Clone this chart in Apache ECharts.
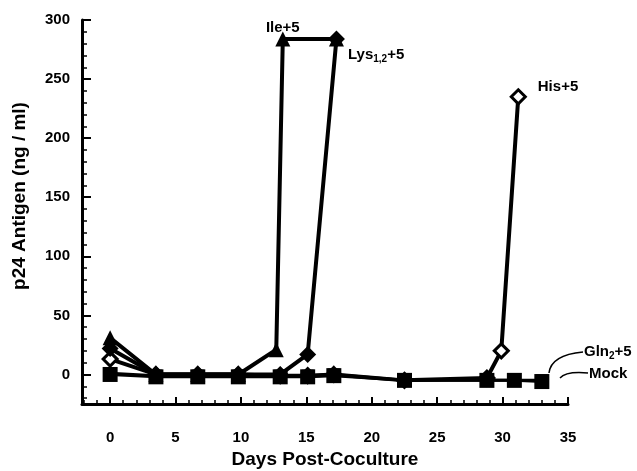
<!DOCTYPE html>
<html><head><meta charset="utf-8">
<script src="https://cdn.jsdelivr.net/npm/echarts@6/dist/echarts.min.js"></script>
<style>html,body{margin:0;padding:0;background:#fff}#c{width:637px;height:471px}</style>
</head><body><div id="c"></div>
<script>
// ---- data ----
const xTickLabels = [0, 5, 10, 15, 20, 25, 30, 35];
const yTickLabels = [0, 50, 100, 150, 200, 250, 300];
const mockDays = [0, 3.5, 6.7, 9.8, 13, 15.1, 17.1, 22.5, 28.8, 30.9, 33];
const mockVals = [0, -2, -2, -2, -2, -2, -1, -5, -5, -5, -6];
const glnDays  = [0, 3.5, 6.7, 9.8, 13, 15.1, 17.1, 22.5, 28.8, 30.9, 33];
const glnVals  = [1, -1, -1, -1, -1, -1, 0, -5, -5, -5, -5];
const hisDays  = [0, 3.5, 6.7, 9.8, 13, 15.1, 17.1, 22.5, 28.8, 29.9, 31.2];
const hisVals  = [13, 0, 0, 0, -1, -1, 0, -5, -3, 20, 235];
const lysDays  = [0, 3.5, 6.7, 9.8, 13, 15.1, 17.3];
const lysVals  = [22, 0, 0, 0, 0, 17, 284];
const ileDays  = [0, 3.5, 6.7, 9.8, 12.7, 13.2, 17.3];
const ileVals  = [31, 0, 0, 0, 21, 284, 284];

const pairs = (d, v) => d.map((x, i) => [x, v[i]]);
const FONT = '"Liberation Sans", Arial, sans-serif';
const xMinor = [], yMinor = [];
for (let d = -2; d <= 35; d++) if (d % 5) xMinor.push(d);
for (let v = -20; v <= 300; v += 10) if (v % 50) yMinor.push(v);

const chart = echarts.init(document.getElementById('c'));
const common = { type: 'line', symbolSize: 15, itemStyle: { color: '#000' }, lineStyle: { color: '#000', width: 3 }, z: 3, animation: false };
const lbl = { color: '#000', fontWeight: 'bold', fontSize: 15, fontFamily: FONT };

chart.setOption({
  animation: false,
  grid: { left: 82, right: 69, top: 20, bottom: 67, containLabel: false, outerBoundsMode: 'none' },
  xAxis: [
    { type: 'value', min: -2.15, max: 35,
      axisLine: { onZero: false, lineStyle: { color: '#000', width: 3 } },
      axisTick: { inside: true, length: 7, lineStyle: { color: '#000', width: 2 }, customValues: xTickLabels },
      axisLabel: { customValues: xTickLabels, color: '#000', fontWeight: 'bold', fontSize: 15, fontFamily: FONT, margin: 26 },
      splitLine: { show: false },
      name: 'Days Post-Coculture', nameLocation: 'middle', nameGap: 45,
      nameTextStyle: { color: '#000', fontWeight: 'bold', fontSize: 19, fontFamily: FONT }
    },
    { type: 'value', min: -2.15, max: 35, position: 'bottom',
      axisLine: { show: false, onZero: false },
      axisTick: { inside: true, length: 4, lineStyle: { color: '#000', width: 1.5 }, customValues: xMinor },
      axisLabel: { show: false }, splitLine: { show: false }
    }
  ],
  yAxis: [
    { type: 'value', min: -25, max: 300,
      axisLine: { show: true, onZero: false, lineStyle: { color: '#000', width: 3 } },
      axisTick: { show: true, inside: true, length: 9, lineStyle: { color: '#000', width: 2 }, customValues: yTickLabels },
      axisLabel: { customValues: yTickLabels, color: '#000', fontWeight: 'bold', fontSize: 15, fontFamily: FONT, margin: 12 },
      splitLine: { show: false }
    },
    { type: 'value', min: -25, max: 300, position: 'left',
      axisLine: { show: false, onZero: false },
      axisTick: { show: true, inside: true, length: 5, lineStyle: { color: '#000', width: 1.5 }, customValues: yMinor },
      axisLabel: { show: false }, splitLine: { show: false }
    }
  ],
  graphic: [
    { type: 'text', x: 20, y: 196, rotation: Math.PI / 2, origin: [0, 0],
      style: { text: 'p24 Antigen (ng / ml)', fill: '#000', font: 'bold 19px ' + FONT, align: 'center', verticalAlign: 'middle' } },
    { type: 'text', x: 584, y: 352, style: { rich: { a: { fill: '#000', font: 'bold 15px ' + FONT }, s: { fill: '#000', font: 'bold 10px ' + FONT, padding: [8, 0, 0, 0] } }, text: '{a|Gln}{s|2}{a|+5}', verticalAlign: 'middle' } },
    { type: 'text', x: 589, y: 374, style: { text: 'Mock', fill: '#000', font: 'bold 15px ' + FONT, verticalAlign: 'middle' } },
    { type: 'bezierCurve', shape: { x1: 549, y1: 373, x2: 583, y2: 352, cpx1: 551, cpy1: 355 }, style: { stroke: '#000', lineWidth: 1.5, fill: null } },
    { type: 'bezierCurve', shape: { x1: 560, y1: 378, x2: 588, y2: 373, cpx1: 566, cpy1: 371 }, style: { stroke: '#000', lineWidth: 1.5, fill: null } }
  ],
  series: [
    Object.assign({}, common, { name: 'Mock', symbol: 'rect', data: pairs(mockDays, mockVals), z: 4 }),
    Object.assign({}, common, { name: 'Gln2+5', symbol: 'rect', symbolSize: 12, data: pairs(glnDays, glnVals) }),
    Object.assign({}, common, { name: 'His+5', symbol: 'diamond', symbolSize: 14,
      itemStyle: { color: '#fff', borderColor: '#000', borderWidth: 3 },
      lineStyle: { color: '#000', width: 4 },
      data: pairs(hisDays, hisVals).map((p, i, a) => i === a.length - 1 ? { value: p, label: Object.assign({ show: true, position: 'right', offset: [6, -10], formatter: 'His+5' }, lbl) } : p) }),
    Object.assign({}, common, { name: 'Lys1,2+5', symbol: 'diamond', symbolSize: 17, lineStyle: { color: '#000', width: 4 },
      data: pairs(lysDays, lysVals).map((p, i, a) => i === a.length - 1 ? { value: p, label: { show: true, position: 'right', offset: [-2, 16], formatter: '{a|Lys}{s|1,2}{a|+5}',
        rich: { a: lbl, s: Object.assign({}, lbl, { fontSize: 10, padding: [9, 0, 0, 0] }) } } } : p) }),
    Object.assign({}, common, { name: 'Ile+5', symbol: 'triangle', symbolSize: 15, lineStyle: { color: '#000', width: 4 },
      data: pairs(ileDays, ileVals).map((p, i) => i === 5 ? { value: p, label: Object.assign({ show: true, position: 'top', offset: [0, 9], formatter: 'Ile+5' }, lbl) } : p) })
  ]
});
</script></body></html>
